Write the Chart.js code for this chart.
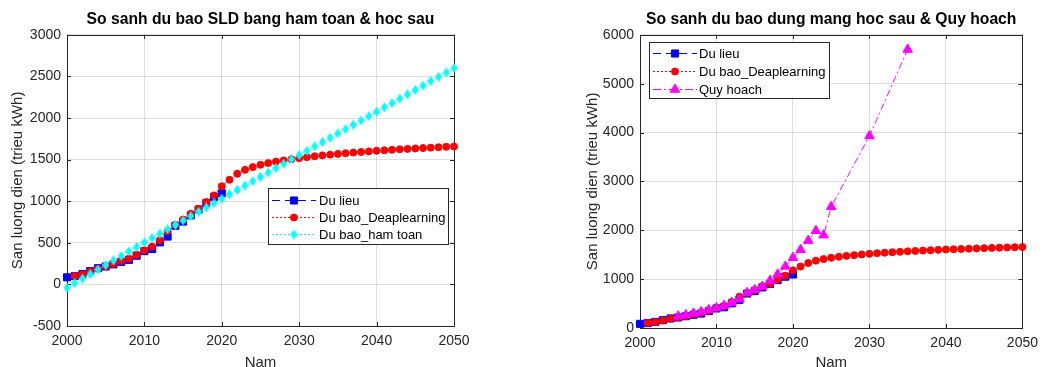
<!DOCTYPE html>
<html>
<head>
<meta charset="utf-8">
<script src="https://cdn.jsdelivr.net/npm/chart.js@4.4.1/dist/chart.umd.js"></script>
<style>
  html, body { margin: 0; padding: 0; background: #fff; overflow: hidden; width: 1045px; height: 367px; }
  canvas { position: absolute; top: 0; }
  #c1 { left: 0; }
  #c2 { left: 520px; }
</style>
</head>
<body>
<canvas id="c1" width="520" height="375" style="width:520px;height:375px"></canvas>
<canvas id="c2" width="525" height="375" style="width:525px;height:375px"></canvas>
<script>
// Electricity output (million kWh): measured data, deep-learning forecast,
// fitted-function forecast and the official plan.
const yearsData = [2000,2001,2002,2003,2004,2005,2006,2007,2008,2009,2010,
                   2011,2012,2013,2014,2015,2016,2017,2018,2019,2020];
const duLieu = [85,100,125,160,195,215,240,270,295,345,400,
                425,505,575,705,755,830,900,980,1050,1095];

const yearsForecast = [2001,2002,2003,2004,2005,2006,2007,2008,2009,2010,
                       2011,2012,2013,2014,2015,2016,2017,2018,2019,2020,
                       2021,2022,2023,2024,2025,2026,2027,2028,2029,2030,
                       2031,2032,2033,2034,2035,2036,2037,2038,2039,2040,
                       2041,2042,2043,2044,2045,2046,2047,2048,2049,2050];
const duBaoDeep = [102,120,155,190,218,245,280,310,355,410,
                   455,530,640,715,780,850,910,990,1070,1180,
                   1258,1330,1378,1410,1438,1458,1476,1490,1505,1518,
                   1530,1541,1551,1560,1569,1577,1585,1592,1599,1606,
                   1612,1618,1624,1629,1634,1639,1644,1649,1654,1658];

const yearsHamToan = [2000,2001,2002,2003,2004,2005,2006,2007,2008,2009,
                      2010,2011,2012,2013,2014,2015,2016,2017,2018,2019,
                      2020,2021,2022,2023,2024,2025,2026,2027,2028,2029,
                      2030,2031,2032,2033,2034,2035,2036,2037,2038,2039,
                      2040,2041,2042,2043,2044,2045,2046,2047,2048,2049,2050];
const duBaoHamToan = [-40,15,70,124,179,233,288,342,397,451,
                      505,558,610,663,715,768,820,873,925,978,
                      1030,1083,1135,1188,1240,1293,1345,1398,1450,1503,
                      1555,1607,1659,1711,1763,1815,1867,1919,1971,2023,
                      2075,2128,2180,2233,2285,2338,2390,2443,2495,2548,2600];

const yearsPlan = [2005,2006,2007,2008,2009,2010,2011,2012,2013,2014,2015,
                   2016,2017,2018,2019,2020,2021,2022,2023,2024,2025,2030,2035];
const quyHoach = [240,265,300,330,370,410,460,520,590,720,780,
                  850,970,1100,1260,1440,1600,1790,1990,1900,2480,3930,5700];

const xTicks = { min: 2000, max: 2050, step: 10 };
const yTicksLeft = { min: -500, max: 3000, step: 500 };
const yTicksRight = { min: 0, max: 6000, step: 1000 };

const titleLeft = 'So sanh du bao SLD bang ham toan & hoc sau';
const titleRight = 'So sanh du bao dung mang hoc sau & Quy hoach';
const yLabel = 'San luong dien (trieu kWh)';
const xLabel = 'Nam';

const FONT = "'Liberation Sans', Arial, Helvetica, sans-serif";
const AXIS = '#262626';

function pts(xs, ys) { return xs.map((x, i) => ({ x: x, y: ys[i] })); }

// vertical diamond marker
function diamond(color, w, h) {
  const c = document.createElement('canvas');
  c.width = w; c.height = h;
  const g = c.getContext('2d');
  g.fillStyle = color;
  g.beginPath();
  g.moveTo(w / 2, 0); g.lineTo(w, h / 2); g.lineTo(w / 2, h); g.lineTo(0, h / 2);
  g.closePath(); g.fill();
  return c;
}

function series(label, xs, ys, color, dash, keyDash, style, radius, order) {
  return {
    label: label, data: pts(xs, ys), borderColor: color, backgroundColor: color,
    borderWidth: 1, borderDash: dash, keyDash: keyDash, pointStyle: style, pointRadius: radius,
    pointBorderWidth: 1, pointBackgroundColor: color, pointBorderColor: color,
    tension: 0, clip: false, order: order
  };
}

// axes box with inward tick marks
const boxPlugin = {
  id: 'axesBox',
  beforeDatasetsDraw(chart) {
    const { ctx, chartArea: a, scales } = chart;
    ctx.save();
    ctx.strokeStyle = AXIS;
    ctx.lineWidth = 1;
    ctx.strokeRect(Math.round(a.left) + 0.5, Math.round(a.top) + 0.5,
                   Math.round(a.right - a.left), Math.round(a.bottom - a.top));
    ctx.beginPath();
    scales.x.ticks.forEach(t => {
      const px = Math.round(scales.x.getPixelForValue(t.value)) + 0.5;
      ctx.moveTo(px, a.bottom); ctx.lineTo(px, a.bottom - 4);
      ctx.moveTo(px, a.top); ctx.lineTo(px, a.top + 4);
    });
    scales.y.ticks.forEach(t => {
      const py = Math.round(scales.y.getPixelForValue(t.value)) + 0.5;
      ctx.moveTo(a.left, py); ctx.lineTo(a.left + 4, py);
      ctx.moveTo(a.right, py); ctx.lineTo(a.right - 4, py);
    });
    ctx.stroke();
    ctx.restore();
  }
};

// boxed legend with line + marker samples
const legendPlugin = {
  id: 'boxLegend',
  afterDatasetsDraw(chart, args, o) {
    const ctx = chart.ctx;
    ctx.save();
    ctx.fillStyle = '#fff';
    ctx.fillRect(o.x, o.y, o.w, o.h);
    ctx.strokeStyle = AXIS;
    ctx.lineWidth = 1;
    ctx.strokeRect(o.x + 0.5, o.y + 0.5, o.w, o.h);
    chart.data.datasets.forEach((ds, i) => {
      const y = o.rows[i];
      ctx.strokeStyle = ds.borderColor;
      ctx.lineWidth = 1;
      ctx.setLineDash(ds.keyDash || []);
      ctx.beginPath();
      ctx.moveTo(o.x0, y + 0.5); ctx.lineTo(o.x1, y + 0.5);
      ctx.stroke();
      ctx.setLineDash([]);
      ctx.fillStyle = ds.pointBackgroundColor;
      ctx.strokeStyle = ds.pointBorderColor;
      Chart.helpers.drawPoint(ctx, { pointStyle: ds.pointStyle, rotation: 0,
        radius: ds.pointRadius, borderWidth: 1 }, (o.x0 + o.x1) / 2, y + 0.5);
      ctx.fillStyle = '#000';
      ctx.font = '13px ' + FONT;
      ctx.textBaseline = 'middle';
      ctx.textAlign = 'left';
      ctx.fillText(ds.label, o.tx, y + 1);
    });
    ctx.restore();
  }
};

function makeOptions(title, yT, yWidth, xHeight, padRight, yTitlePad, legend) {
  return {
    responsive: false, animation: false, devicePixelRatio: 1, events: [],
    layout: { padding: { left: 0, right: padRight, top: 0, bottom: 0 } },
    plugins: {
      legend: { display: false },
      tooltip: { enabled: false },
      title: { display: true, text: title, fullSize: false, color: '#000',
               font: { family: FONT, size: 15.7, weight: 'bold' },
               padding: { top: 10, bottom: 6 } },
      boxLegend: legend
    },
    scales: {
      x: {
        type: 'linear', min: xTicks.min, max: xTicks.max,
        ticks: { stepSize: xTicks.step, color: AXIS, padding: 7,
                 font: { family: FONT, size: 14 }, callback: v => String(v) },
        grid: { color: 'rgba(38,38,38,0.15)', drawTicks: false },
        border: { display: false },
        title: { display: true, text: xLabel, color: AXIS,
                 font: { family: FONT, size: 15 }, padding: { top: 0, bottom: 3 } },
        afterFit: s => { s.height = xHeight; }
      },
      y: {
        type: 'linear', min: yT.min, max: yT.max,
        ticks: { stepSize: yT.step, color: AXIS, padding: 6,
                 font: { family: FONT, size: 14 }, callback: v => String(v) },
        grid: { color: 'rgba(38,38,38,0.15)', drawTicks: false },
        border: { display: false },
        title: { display: true, text: yLabel, color: AXIS,
                 font: { family: FONT, size: 15 }, padding: { top: yTitlePad, bottom: 0 } },
        afterFit: s => { s.width = yWidth; }
      }
    }
  };
}

const diamondCyan = diamond('#00ffff', 7, 10);

new Chart(document.getElementById('c1'), {
  type: 'line',
  data: {
    datasets: [
      series('Du lieu', yearsData, duLieu, '#0000ff', [6, 4], [8, 5], 'rect', 5, 3),
      series('Du bao_Deaplearning', yearsForecast, duBaoDeep, '#ff0000', [1.5, 2.5], [2, 2], 'circle', 3.5, 2),
      series('Du bao_ham toan', yearsHamToan, duBaoHamToan, '#00ffff', [1.5, 2.5], [2, 2], diamondCyan, 5, 1)
    ]
  },
  options: makeOptions(titleLeft, yTicksLeft, 67, 49, 66, 8.5,
    { x: 268, y: 188, w: 180, h: 56, rows: [200, 217, 234], x0: 272, x1: 316, tx: 319 }),
  plugins: [boxPlugin, legendPlugin]
});

new Chart(document.getElementById('c2'), {
  type: 'line',
  data: {
    datasets: [
      series('Du lieu', yearsData, duLieu, '#0000ff', [6, 4], [8, 5], 'rect', 5, 3),
      series('Du bao_Deaplearning', yearsForecast, duBaoDeep, '#ff0000', [1.5, 2.5], [2, 2], 'circle', 3.5, 2),
      series('Quy hoach', yearsPlan, quyHoach, '#ff00ff', [7, 3, 2, 3], [8, 3, 2, 3], 'triangle', 5.5, 1)
    ]
  },
  options: makeOptions(titleRight, yTicksRight, 120, 47, 18, 64,
    { x: 129, y: 42, w: 180, h: 56, rows: [53, 71, 89], x0: 133, x1: 177, tx: 179 }),
  plugins: [boxPlugin, legendPlugin]
});
</script>
</body>
</html>
